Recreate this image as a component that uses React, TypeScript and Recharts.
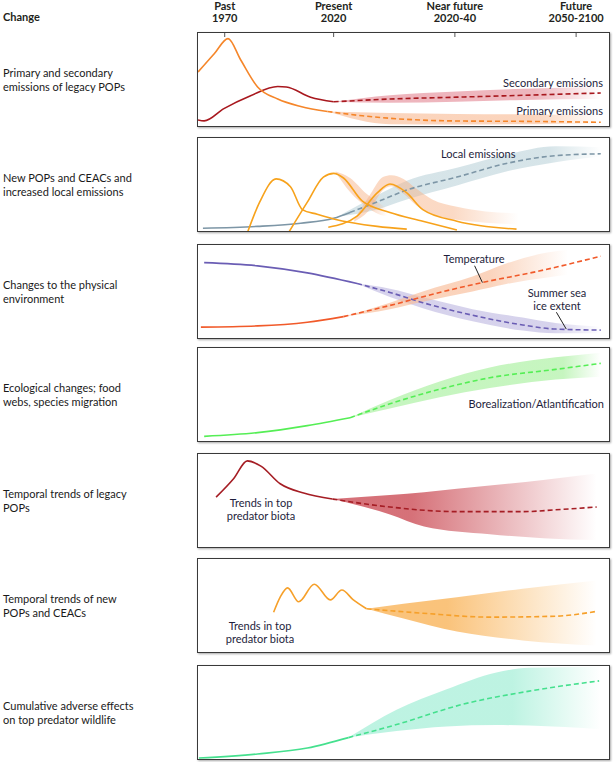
import React from "react";
import { ComposedChart, Line, Area, XAxis, YAxis, ReferenceLine } from "recharts";

// x: conceptual time index (0-100 across the panel), y: relative level (0-100)
type Pt = [number, number];
type Band = [number, number, number];

const eraTicks = [6.5, 33, 62.5, 92];
const eraNames = ["Past", "Present", "Near future", "Future"];
const eraYears = ["1970", "2020", "2020-40", "2050-2100"];

const changeLabels = [
  ["Primary and secondary", "emissions of legacy POPs"],
  ["New POPs and CEACs  and", "increased local emissions"],
  ["Changes to the physical", "environment"],
  ["Ecological changes; food", "webs, species migration"],
  ["Temporal trends of legacy", "POPs"],
  ["Temporal trends of new", "POPs and CEACs"],
  ["Cumulative adverse effects", "on top predator wildlife"],
];

// panel 1
const primaryPast: Pt[] = [[0, 58], [4, 78], [7.3, 94], [10.4, 71], [14.5, 42], [19.4, 29], [25, 21], [31.5, 15.6]];
const primaryFuture: Pt[] = [[31.5, 15.6], [40, 11], [46.7, 8.3], [63, 5.4], [79, 5], [98, 4]];
const primaryBand: Band[] = [[31.5, 15.6, 15.6], [46.7, 2, 14], [63, 1.5, 13], [80, 2, 12.5], [98, 2.5, 12]];
const secondaryPast: Pt[] = [[0, 6.5], [1.5, 5.5], [6.3, 18.7], [12.8, 32.6], [19.4, 42.5], [21.5, 42], [27.4, 31], [33, 26]];
const secondaryFuture: Pt[] = [[33, 26], [46.7, 29], [63, 31], [79, 33], [98, 35.5]];
const secondaryBand: Band[] = [[33, 26, 26], [46.7, 25, 33], [63, 26, 37], [79, 28, 40], [98, 29, 42]];

// panel 2
const localPast: Pt[] = [[1.2, 3], [14.5, 5], [25, 8.4], [33, 13.7], [37, 20]];
const localFuture: Pt[] = [[37, 20], [42.6, 29.5], [50.8, 44], [63, 58], [75, 72.6], [87, 81], [98, 83]];
const localBand: Band[] = [[35, 16, 18], [42.6, 22, 36], [50.8, 34, 54], [63, 49, 68], [75, 64, 82], [87, 74, 91], [98, 80, 90]];
const newPeak1: Pt[] = [[12, -2], [15, 31], [19, 56], [22.5, 47.6], [25.4, 23], [29, 18], [33, 13], [43.6, 5], [50.8, 2]];
const newPeak2: Pt[] = [[22, -2], [26.6, 31], [30.5, 58], [33, 62], [35.4, 57], [40, 32], [46.7, 20], [54.7, 10.5], [63, 1]];
const newPeak3: Pt[] = [[31.7, 4], [38.7, 16], [43.6, 41], [46.7, 50.5], [50.8, 41], [54.7, 23], [63, 10.5], [77.5, 2]];
const peak2Band: Band[] = [[33.5, 63, 64], [37, 42, 57], [41, 26, 40], [44, 18, 30], [46, 16, 24]];
const peak3Band: Band[] = [[38, 10, 12], [42, 24, 40], [45, 44, 58], [47, 48, 60], [50, 40, 56], [53, 28, 46], [57, 18, 34], [63, 12, 26], [70, 9, 21], [78, 7, 19]];

// panel 3
const icePast: Pt[] = [[1.5, 81], [14.5, 77.6], [26.6, 70], [38.7, 58.5]];
const iceFuture: Pt[] = [[38.7, 58.5], [46.7, 49], [54.7, 38], [66.8, 24.5], [79, 14], [87, 9.6], [98, 8.5]];
const iceBand: Band[] = [[38.7, 58.5, 58.5], [46.7, 44, 53], [54.7, 32, 44], [66.8, 18, 31], [79, 8, 22], [87, 5, 16], [98, 5, 12]];
const tempPast: Pt[] = [[0.7, 11.7], [14.5, 13], [26.6, 17], [35.4, 23]];
const tempFuture: Pt[] = [[35.4, 23], [46.7, 35], [58.8, 49], [69, 59.5], [83, 72], [98, 88]];
const tempBand: Band[] = [[35.4, 23, 23], [46.7, 31, 38], [54.7, 39, 50], [66.8, 50, 66], [75, 58, 80], [85, 65, 92], [90, 68, 95]];

// panel 4
const ecoPast: Pt[] = [[1.5, 5], [14.5, 9], [26.6, 16.5], [37, 25]];
const ecoFuture: Pt[] = [[37, 25], [46.7, 40], [58.8, 55.7], [71, 68], [87, 77], [98, 83.5]];
const ecoBand: Band[] = [[37, 25, 25], [46.7, 35, 44], [58.8, 47, 64], [71, 57, 79], [87, 66, 90], [98, 69, 95]];

// panel 5
const legacyPast: Pt[] = [[4.4, 53.7], [8.7, 73.7], [12, 92.6], [15.3, 87], [20, 68], [25.7, 58], [32.7, 51.6]];
const legacyFuture: Pt[] = [[32.7, 51.6], [46.7, 43], [63, 38], [79, 38], [87, 40], [97, 43]];
const legacyBand: Band[] = [[32.7, 51.6, 51.6], [46.7, 35, 56], [55, 22, 59], [71, 13.7, 66], [84, 9.5, 72], [97, 7.4, 79]];

// panel 6
const newBiotaPast: Pt[] = [[18.4, 42.7], [20, 59], [21.8, 69], [24.5, 54], [28.3, 72.9], [32.2, 56], [35, 66.7], [37.8, 56], [41, 46.5]];
const newBiotaFuture: Pt[] = [[41, 46.5], [54.7, 41.7], [71, 37.5], [87, 38.5], [97, 43.7]];
const newBiotaBand: Band[] = [[41, 46.5, 46.5], [50, 36, 52], [63, 22, 59], [79, 12.5, 68], [97, 7, 77]];

// panel 7
const effectPast: Pt[] = [[0.2, 1], [14.5, 5.4], [26.6, 11.8], [36.6, 23]];
const effectFuture: Pt[] = [[36.6, 23], [48.3, 37], [64.4, 58.8], [80.6, 73], [97.6, 84]];
const effectBand: Band[] = [[36.6, 23, 23], [48.3, 30, 53], [60.5, 35, 75], [72.6, 36.5, 93], [80.6, 36, 98], [98, 32, 99]];

const tempLeader = [{ x: 67.3, y: 77.7 }, { x: 69.2, y: 59.6 }];
const iceLeader = [{ x: 87.2, y: 27.7 }, { x: 89.6, y: 9.6 }];

const FONT = "Lato, 'Open Sans', sans-serif";
const BOX_LEFT = 197;
const BOX_W = 413;
const BOX_H = 95;
const panelTops = [32, 137, 244, 347, 453, 558, 665];

const pts = (a: Pt[]) => a.map(([x, y]) => ({ x, y }));
const band = (a: Band[]) => a.map(([x, lo, hi]) => ({ x, range: [lo, hi] }));

interface BandDef {
  data: Band[];
  color: string;
  opacity: number;
  fadeFrom: number;
}

interface SeriesDef {
  past?: Pt[];
  future?: Pt[];
  extra?: Pt[][];
  color: string;
}

function FadeGradient({ id, color, opacity, fadeFrom }: { id: string; color: string; opacity: number; fadeFrom: number }) {
  return (
    <linearGradient id={id} x1="0" y1="0" x2="1" y2="0">
      <stop offset="0" stopColor={color} stopOpacity={opacity} />
      <stop offset={fadeFrom} stopColor={color} stopOpacity={opacity} />
      <stop offset="1" stopColor={color} stopOpacity={0} />
    </linearGradient>
  );
}

function EraTick(props: any) {
  const { x, payload } = props;
  const i = eraTicks.indexOf(payload.value);
  return (
    <g>
      <text x={x} y={10} textAnchor="middle" fontFamily={FONT} fontWeight={700} fontSize={11} fill="#231f20">
        {eraNames[i]}
      </text>
      <text x={x} y={22} textAnchor="middle" fontFamily={FONT} fontWeight={700} fontSize={11} fill="#231f20">
        {eraYears[i]}
      </text>
      <line x1={x} x2={x} y1={33} y2={37} stroke="#555" strokeWidth={1} />
    </g>
  );
}

function Panel({
  idx,
  series,
  bands,
  header,
  children,
}: {
  idx: number;
  series: SeriesDef[];
  bands: BandDef[];
  header?: boolean;
  children?: React.ReactNode;
}) {
  const top = panelTops[idx];
  const headH = header ? top + 1 : 0;
  return (
    <>
      <div
        style={{
          position: "absolute",
          left: BOX_LEFT,
          top,
          width: BOX_W,
          height: BOX_H,
          boxSizing: "border-box",
          border: "1px solid #3a3a3a",
          boxShadow: "1px 1px 2px rgba(0,0,0,0.35)",
          background: "#fff",
        }}
      />
      <div style={{ position: "absolute", left: BOX_LEFT + 1, top: header ? 0 : top + 1 }}>
        <ComposedChart width={BOX_W - 2} height={BOX_H - 2 + headH} margin={{ top: 0, right: 0, bottom: 0, left: 0 }}>
          <defs>
            {bands.map((b, k) => (
              <FadeGradient key={k} id={`band-${idx}-${k}`} color={b.color} opacity={b.opacity} fadeFrom={b.fadeFrom} />
            ))}
          </defs>
          <XAxis
            type="number"
            dataKey="x"
            domain={[0, 100]}
            allowDataOverflow
            hide={!header}
            orientation="top"
            height={headH}
            ticks={eraTicks}
            axisLine={false}
            tickLine={false}
            tickSize={0}
            tickMargin={0}
            interval={0}
            tick={<EraTick />}
          />
          <YAxis type="number" domain={[0, 100]} allowDataOverflow hide />
          {bands.map((b, k) => (
            <Area
              key={`a${k}`}
              data={band(b.data)}
              dataKey="range"
              type="monotone"
              stroke="none"
              fill={`url(#band-${idx}-${k})`}
              fillOpacity={1}
              isAnimationActive={false}
            />
          ))}
          {children}
          {series.map((s, k) => (
            <React.Fragment key={`l${k}`}>
              {(s.extra || []).map((e, j) => (
                <Line key={`e${j}`} data={pts(e)} dataKey="y" type="monotone" stroke={s.color} strokeWidth={1.6} dot={false} isAnimationActive={false} />
              ))}
              {s.past && (
                <Line data={pts(s.past)} dataKey="y" type="monotone" stroke={s.color} strokeWidth={1.6} dot={false} isAnimationActive={false} />
              )}
              {s.future && (
                <Line
                  data={pts(s.future)}
                  dataKey="y"
                  type="monotone"
                  stroke={s.color}
                  strokeWidth={1.6}
                  strokeDasharray="5 3"
                  dot={false}
                  isAnimationActive={false}
                />
              )}
            </React.Fragment>
          ))}
        </ComposedChart>
      </div>
    </>
  );
}

function Note({ text, x, y, align = "left" }: { text: string[]; x: number; y: number; align?: "left" | "center" | "right" }) {
  const style: React.CSSProperties = {
    position: "absolute",
    top: y - 7,
    fontFamily: FONT,
    fontSize: 11,
    lineHeight: "13px",
    color: "#1e1e3c",
    whiteSpace: "nowrap",
    textAlign: align,
  };
  if (align === "left") style.left = x;
  if (align === "right") style.right = 614 - x;
  if (align === "center") {
    style.left = x - 60;
    style.width = 120;
  }
  return (
    <div style={style}>
      {text.map((t, i) => (
        <div key={i}>{t}</div>
      ))}
    </div>
  );
}

export default function App() {
  return (
    <div style={{ position: "absolute", left: 0, top: 0, width: 614, height: 762, background: "#fff", overflow: "hidden" }}>
      <div style={{ position: "absolute", left: 3, top: 10, fontFamily: FONT, fontWeight: 700, fontSize: 11, color: "#231f20" }}>Change</div>
      {changeLabels.map((lines, i) => (
        <div
          key={i}
          style={{ position: "absolute", left: 3, top: panelTops[i] + 34, fontFamily: FONT, fontSize: 11, lineHeight: "14px", color: "#1a1a1a" }}
        >
          {lines.map((l, j) => (
            <div key={j}>{l}</div>
          ))}
        </div>
      ))}

      <Panel
        idx={0}
        header
        bands={[
          { data: secondaryBand, color: "#e07a88", opacity: 0.55, fadeFrom: 0.75 },
          { data: primaryBand, color: "#f8b890", opacity: 0.6, fadeFrom: 0.75 },
        ]}
        series={[
          { past: secondaryPast, future: secondaryFuture, color: "#a8181e" },
          { past: primaryPast, future: primaryFuture, color: "#f5862a" },
        ]}
      />
      <Panel
        idx={1}
        bands={[
          { data: localBand, color: "#c5d9df", opacity: 0.7, fadeFrom: 0.8 },
          { data: peak2Band, color: "#f7b48a", opacity: 0.5, fadeFrom: 0.7 },
          { data: peak3Band, color: "#f7b48a", opacity: 0.5, fadeFrom: 0.6 },
        ]}
        series={[
          { past: localPast, future: localFuture, color: "#7d96a6" },
          { extra: [newPeak1, newPeak2, newPeak3], color: "#f7a21b" },
        ]}
      />
      <Panel
        idx={2}
        bands={[
          { data: iceBand, color: "#c9c4e6", opacity: 0.75, fadeFrom: 0.8 },
          { data: tempBand, color: "#f8bc98", opacity: 0.65, fadeFrom: 0.65 },
        ]}
        series={[
          { past: icePast, future: iceFuture, color: "#6a5db4" },
          { past: tempPast, future: tempFuture, color: "#f15a2a" },
        ]}
      >
        <ReferenceLine segment={tempLeader} stroke="#222" strokeWidth={1} ifOverflow="visible" />
        <ReferenceLine segment={iceLeader} stroke="#222" strokeWidth={1} ifOverflow="visible" />
      </Panel>
      <Panel
        idx={3}
        bands={[{ data: ecoBand, color: "#b8f3b0", opacity: 0.8, fadeFrom: 0.85 }]}
        series={[{ past: ecoPast, future: ecoFuture, color: "#55ee55" }]}
      />
      <Panel
        idx={4}
        bands={[{ data: legacyBand, color: "#c8424c", opacity: 0.75, fadeFrom: 0.3 }]}
        series={[{ past: legacyPast, future: legacyFuture, color: "#a51d24" }]}
      />
      <Panel
        idx={5}
        bands={[{ data: newBiotaBand, color: "#f9b45a", opacity: 0.8, fadeFrom: 0.35 }]}
        series={[{ past: newBiotaPast, future: newBiotaFuture, color: "#f6a02a" }]}
      />
      <Panel
        idx={6}
        bands={[{ data: effectBand, color: "#b2f1dd", opacity: 0.85, fadeFrom: 0.65 }]}
        series={[{ past: effectPast, future: effectFuture, color: "#45e08e" }]}
      />

      <Note text={["Secondary emissions"]} x={603} y={83} align="right" />
      <Note text={["Primary emissions"]} x={603} y={111} align="right" />
      <Note text={["Local emissions"]} x={441} y={154} />
      <Note text={["Temperature"]} x={474} y={259} align="center" />
      <Note text={["Summer sea", "ice extent"]} x={557} y={293} align="center" />
      <Note text={["Borealization/Atlantification"]} x={604} y={404} align="right" />
      <Note text={["Trends in top", "predator biota"]} x={261} y={503} align="center" />
      <Note text={["Trends in top", "predator biota"]} x={260} y={626} align="center" />
    </div>
  );
}
